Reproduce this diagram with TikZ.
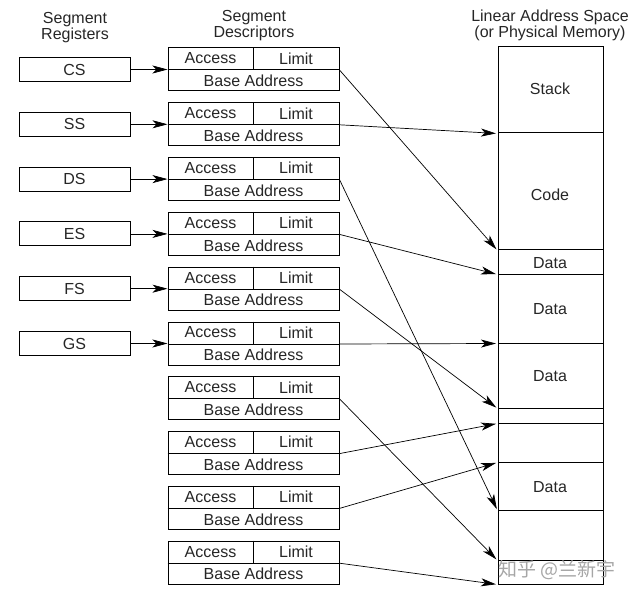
\documentclass[tikz,border=0pt]{standalone}
\usepackage{fontspec}
\setmainfont{Liberation Sans}
\newfontfamily\cjk{Noto Sans CJK SC}
\usetikzlibrary{arrows.meta,calc}
\begin{document}
\begin{tikzpicture}[x=1pt,y=-1pt,
  every node/.style={font=\fontsize{16}{16}\selectfont, inner sep=0pt, text=black!85},
  head/.style={align=center, anchor=base},
  reg/.style={draw, line width=1pt, minimum width=111pt, minimum height=24pt},
  desc/.style={draw, line width=1pt, minimum width=171pt, minimum height=43pt},
  mem/.style={draw, line width=1pt, minimum width=105pt},
  sep/.style={line width=1pt},
  link/.style={line width=0.7pt, shorten >=1.5pt, -{Stealth[length=15pt,width=8pt,inset=4pt]}},
  wmark/.style={font=\cjk\fontsize{19}{19}\selectfont, text=black!35}
]
\useasboundingbox (0,0) rectangle (632,596);

% headers (anchor at baseline of last line)
\node[head] (hreg) at (75,39.5) {Segment\\Registers};
\node[head] (hdesc) at (254,38) {Segment\\Descriptors};
\node[head] (hmem) at (550,37.5) {Linear Address Space\\(or Physical Memory)};

% memory column
\node[mem, minimum height=86pt]  (m1)  at (550.5,90)    {};
\node[mem, minimum height=117pt] (m2)  at (550.5,191.5) {};
\node[mem, minimum height=24pt]  (m3)  at (550.5,262)   {};
\node[mem, minimum height=69pt]  (m4)  at (550.5,308.5) {};
\node[mem, minimum height=65pt]  (m5)  at (550.5,375.5) {};
\node[mem, minimum height=15pt]  (m6)  at (550.5,415.5) {};
\node[mem, minimum height=39pt]  (m7)  at (550.5,442.5) {};
\node[mem, minimum height=48pt]  (m8)  at (550.5,486)   {};
\node[mem, minimum height=50pt]  (m9)  at (550.5,535)   {};
\node[mem, minimum height=24pt]  (m10) at (550.5,572)   {};

\node (lstack) at (550,88.5)  {Stack};
\node (lcode)  at (550,195)   {Code};
\node (ldata1) at (550,263)   {Data};
\node (ldata2) at (550,309.5) {Data};
\node (ldata3) at (550,376.5) {Data};
\node (ldata4) at (550,487)   {Data};

% descriptors
\foreach \i in {1,...,10}{
  \node[desc] (d\i) at (253.5,{69.5+(\i-1)*54.8}) {};
  \draw[sep] ($(d\i.west)+(0,0.5)$) coordinate (dl\i) -- ($(d\i.east)+(0,0.5)$) coordinate (dr\i);
  \draw[sep] ($(d\i.north west)+(86,0)$) coordinate (dt\i) -- ($(dl\i)+(86,0)$);
  \node (acc\i) at ($(d\i.north west)+(43,11)$) {Access};
  \node (lim\i) at ($(d\i.north west)+(128.5,11)$) {Limit};
  \node (base\i) at ($(d\i.south)+(0,-10.5)$) {Base Address};
}

% registers
\foreach \i/\n in {1/CS,2/SS,3/DS,4/ES,5/FS,6/GS}{
  \node[reg] (r\i) at (74.5,{69.5+(\i-1)*54.8}) {\n};
  \draw[link, shorten >=0pt] (r\i.east) -- (d\i.west);
}

% descriptor -> memory
\draw[link] (dr1)  -- (m2.south west);
\draw[link] (dr2)  -- (m1.south west);
\draw[link] (dr3)  -- (m8.south west);
\draw[link] (dr4)  -- (m3.south west);
\draw[link] (dr5)  -- (m5.south west);
\draw[link] (dr6)  -- (m4.south west);
\draw[link] (dr7)  -- (m9.south west);
\draw[link] (dr8)  -- (m6.south west);
\draw[link] (dr9)  -- (m7.south west);
\draw[link] (dr10) -- (m10.south west);

% watermark
\node[wmark] (wm) at (557,570) {知乎 @兰新宇};
\end{tikzpicture}
\end{document}
